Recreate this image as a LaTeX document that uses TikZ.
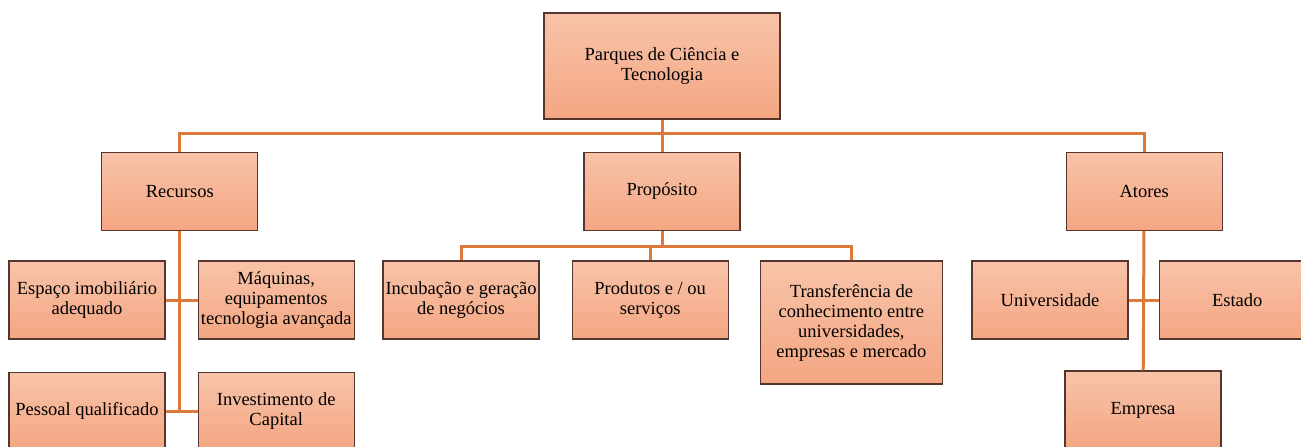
\documentclass[tikz,border=0pt]{standalone}
\usepackage{fontspec}
\setmainfont{Liberation Serif}
\newfontfamily\boxfont{Liberation Serif}
\usetikzlibrary{positioning}

\definecolor{boxtop}{RGB}{248,195,169}
\definecolor{boxbottom}{RGB}{244,166,130}
\definecolor{boxline}{RGB}{84,54,44}
\definecolor{linkorange}{RGB}{221,122,58}

\begin{document}
\begin{tikzpicture}[
  x=0.5pt, y=-0.5pt,
  every node/.style={font=\boxfont\fontsize{9.25}{10}\selectfont, align=center},
  box/.style={draw=boxline, line width=0.6pt, top color=boxtop, bottom color=boxbottom,
    minimum width=78pt, minimum height=39pt, inner sep=1pt},
  bigbox/.style={box, minimum width=118pt, minimum height=53pt},
  tallbox/.style={box, minimum width=91pt, minimum height=61.5pt},
  link/.style={draw=linkorange, line width=1.5pt},
  node distance=16pt
]
\clip (0,0) rectangle (1301,446);

% Nodes
\node[bigbox] (parques) at (662,66) {Parques de Ciência e\\ Tecnologia};
\node[box, below=16pt of parques] (proposito) {Propósito};
\node[box, left=162.5pt of proposito] (recursos) {Recursos};
\node[box, right=162.5pt of proposito] (atores) {Atores};

\node[box] (espaco) at (87,300) {Espaço imobiliário\\ adequado};
\node[box, right=16pt of espaco] (maquinas) {Máquinas,\\ equipamentos\\ tecnologia avançada};
\node[box, below=16pt of espaco] (pessoal) {Pessoal qualificado};
\node[box, below=16pt of maquinas] (investimento) {Investimento de\\ Capital};

\node[box] (incubacao) at (461,300) {Incubação e geração\\ de negócios};
\node[box, right=16pt of incubacao] (produtos) {Produtos e / ou\\ serviços};
\node[tallbox, right=15.5pt of produtos.north east, anchor=north west] (transferencia)
  {Transferência de\\ conhecimento entre\\ universidades,\\ empresas e mercado};

\node[box] (universidade) at (1050,300) {Universidade};
\node[box, right=15pt of universidade] (estado) {Estado};
\node[box] (empresa) at (1143,410) {Empresa};

% Connectors
\draw[link] (parques) -- (proposito);
\draw[link] (parques.south) -- ++(0pt,-7pt) -| (recursos.north);
\draw[link] (parques.south) -- ++(0pt,-7pt) -| (atores.north);

\draw[link] (proposito.south) -- ++(0pt,-8pt) -| (incubacao.north);
\draw[link] (proposito.south) -- ++(0pt,-8pt) -| (produtos.north);
\draw[link] (proposito.south) -- ++(0pt,-8pt) -| (transferencia.north);

\draw[link] (recursos.south) -- (recursos.south |- pessoal.east);
\draw[link] (espaco) -- (maquinas);
\draw[link] (pessoal) -- (investimento);

\draw[link] (atores) -- (empresa);
\draw[link] (universidade) -- (estado);

\end{tikzpicture}
\end{document}
